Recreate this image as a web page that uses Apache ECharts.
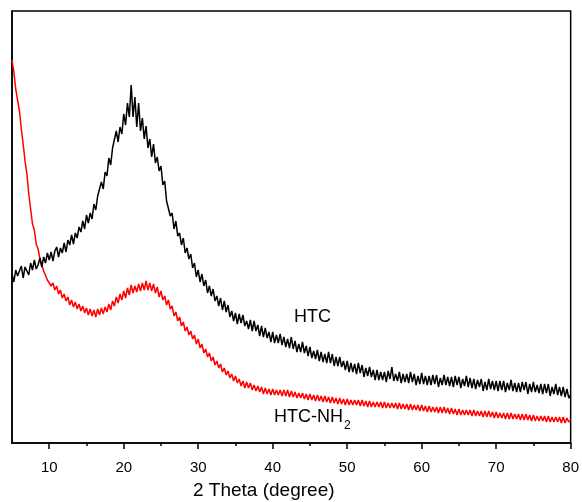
<!DOCTYPE html>
<html>
<head>
<meta charset="utf-8">
<script src="https://cdn.jsdelivr.net/npm/echarts@6/dist/echarts.min.js"></script>
<style>
html,body{margin:0;padding:0;background:#fff;}
#chart{width:582px;height:502px;}
</style>
</head>
<body>
<div id="chart"></div>
<script>
// 2-theta sampling start/step (degrees)
const thetaStart = 5;
const thetaStep = 0.25;

// HTC intensity (a.u.), sampled every 0.25 degree from 5 to 80 (one row per degree)
const htc = [
169,161,173,167,
166,177,165,176,
174,168,180,173,
183,174,178,185,
176,186,180,190,
183,191,182,192,
196,186,195,190,
200,191,203,198,
208,199,210,205,
216,211,222,214,
228,220,230,224,
239,233,247,245,
261,254,271,267,
285,278,295,294,
312,301,316,309,
329,318,340,326,
358,326,346,316,
340,312,325,304,
317,295,304,286,
299,280,286,272,
277,258,262,242,
244,227,230,214,
222,207,210,198,
205,190,195,184,
189,175,180,166,
173,161,169,157,
163,150,157,147,
154,142,147,137,
145,133,142,131,
138,126,132,122,
130,119,129,120,
128,117,122,114,
123,112,122,112,
118,107,117,106,
115,105,111,101,
111,100,108,100,
109,98,106,96,
104,95,106,94,
102,91,99,91,
101,90,97,87,
96,85,92,84,
93,82,91,81,
89,80,91,80,
89,77,86,77,
86,76,82,73,
82,71,80,71,
79,69,80,70,
78,66,75,67,
76,66,73,63,
73,63,71,63,
71,61,72,64,
76,62,69,62,
71,60,69,61,
69,60,71,61,
69,58,67,59,
70,59,67,58,
67,58,68,59,
68,56,65,58,
68,58,66,57,
66,56,67,58,
66,55,64,57,
67,56,65,55,
64,54,63,56,
64,52,61,53,
64,54,62,53,
62,52,62,53,
62,51,60,53,
63,52,60,51,
60,51,61,53,
61,49,59,51,
61,51,58,50,
59,49,59,50,
59,47,56,49,
59,48,56,47,
56,46,54,45,
48
];

// HTC-NH2 intensity (a.u.), sampled every 0.25 degree from 5 to 80 (one row per degree)
const htcNH2 = [
383,371,354,343,
332,314,299,282,
269,249,234,219,
213,199,194,184,
182,172,170,163,
165,157,160,153,
157,149,153,145,
149,142,146,138,
143,136,141,134,
139,132,137,130,
135,128,134,127,
133,126,134,128,
135,129,136,131,
139,133,142,137,
146,140,149,143,
152,145,155,148,
158,150,157,151,
159,152,160,153,
162,153,160,152,
159,150,156,146,
152,143,147,138,
143,134,137,127,
131,122,126,117,
121,112,116,108,
112,104,108,99,
104,95,99,90,
94,86,90,82,
86,78,82,75,
79,71,75,68,
72,65,69,62,
67,60,64,57,
62,55,61,55,
60,53,58,52,
57,51,56,49,
55,49,54,48,
54,48,53,48,
53,47,53,47,
53,46,52,46,
51,45,50,45,
50,44,49,43,
49,43,48,42,
48,42,47,41,
47,41,46,40,
46,40,45,39,
45,39,44,38,
44,38,43,38,
43,38,43,37,
43,37,42,36,
42,36,41,36,
41,36,41,35,
41,35,40,35,
40,35,40,34,
40,34,39,34,
39,33,39,33,
38,33,38,32,
38,32,37,31,
37,31,36,31,
36,30,36,30,
36,30,35,29,
35,29,34,28,
34,28,33,28,
33,28,33,27,
33,27,32,27,
32,26,32,26,
32,26,31,25,
31,25,30,25,
30,24,30,24,
30,24,29,24,
29,23,29,23,
29,23,28,22,
28,22,27,22,
27,22,27,21,
27,21,26,21,
26,21,26,20,
26,20,25,21,
23
];

const majorTicks = [10,20,30,40,50,60,70,80];
const minorTicks = [15,25,35,45,55,65,75];
const seriesNames = ['HTC','HTC-NH\u2082'];
const xTitle = '2 Theta (degree)';

function pairs(arr){
  return arr.map((v,i)=>[thetaStart + i*thetaStep, v]);
}

const chart = echarts.init(document.getElementById('chart'), null, {renderer:'canvas'});
const font = '"Liberation Sans", Arial, sans-serif';
chart.setOption({
  animation:false,
  backgroundColor:'#fff',
  grid:{left:12,right:8,top:11,bottom:59,show:true,borderColor:'#000',borderWidth:1.5,backgroundColor:'transparent'},
  xAxis:[{
    type:'value',min:5,max:80,
    axisLine:{show:true,onZero:false,lineStyle:{color:'#000',width:1.5}},
    axisTick:{show:true,customValues:majorTicks,length:6,lineStyle:{color:'#000',width:1.5}},
    axisLabel:{show:true,customValues:majorTicks,color:'#000',fontSize:15,fontFamily:font,margin:17},
    splitLine:{show:false}
  },{
    type:'value',min:5,max:80,position:'bottom',
    axisLine:{show:false},
    axisTick:{show:true,customValues:minorTicks,length:3,lineStyle:{color:'#000',width:1.5}},
    axisLabel:{show:false},
    splitLine:{show:false}
  }],
  yAxis:{
    type:'value',min:0,max:432,
    axisLine:{show:true,onZero:false,lineStyle:{color:'#000',width:1.5}},
    axisTick:{show:false},axisLabel:{show:false},splitLine:{show:false}
  },
  series:[{
    name:seriesNames[1],type:'line',data:pairs(htcNH2),showSymbol:false,
    lineStyle:{color:'#ff0000',width:1.5},itemStyle:{color:'#ff0000'},z:2
  },{
    name:seriesNames[0],type:'line',data:pairs(htc),showSymbol:false,
    lineStyle:{color:'#000000',width:1.5},itemStyle:{color:'#000'},z:3
  }],
  graphic:[{
    type:'text',left:193,top:481,
    style:{text:xTitle,fill:'#000',font:'19px '+font}
  },{
    type:'text',left:294,top:308,
    style:{text:'HTC',fill:'#000',font:'18px '+font}
  },{
    type:'text',left:274,top:408,
    style:{text:'HTC-NH{s|2}',fill:'#000',font:'18px '+font,
      rich:{s:{fontSize:12,fontFamily:font,padding:[17,0,0,1]}}}
  }]
});
</script>
</body>
</html>
